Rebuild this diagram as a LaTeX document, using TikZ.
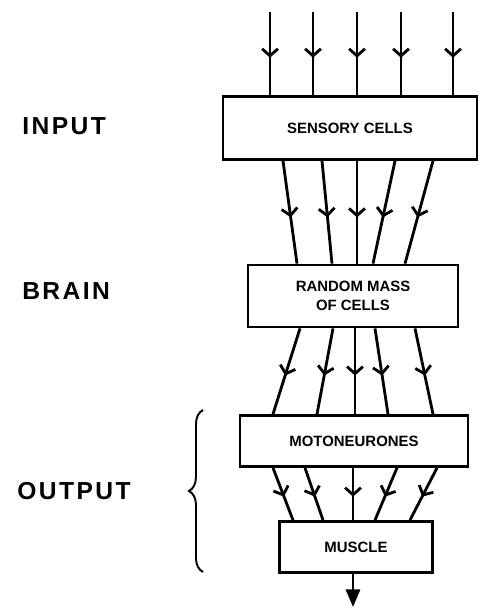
\documentclass[tikz,border=0pt]{standalone}
\usepackage{fontspec}
\setmainfont{Liberation Sans}
\usetikzlibrary{arrows.meta,decorations.markings,decorations.pathreplacing}
\begin{document}
\begin{tikzpicture}[x=0.02cm,y=-0.02cm,line width=1.6pt,
    box/.style={draw,rectangle,inner sep=0pt,align=center,
      font=\fontsize{8.5}{11}\selectfont\bfseries},
    nerve/.style={postaction={decorate},decoration={markings,
      mark=at position .55 with {\arrow{Straight Barb[length=4pt,width=9pt]}}}},
    side/.style={anchor=west,font=\fontsize{14}{16}\selectfont\bfseries\addfontfeature{LetterSpace=10}}]
  \useasboundingbox (0,0) rectangle (480,609);
  % the four stages
  \node[box,minimum width=5.08cm,minimum height=1.26cm] (sens) at (350,128) {SENSORY CELLS};
  \node[box,minimum width=4.2cm,minimum height=1.24cm] (rand) at (353,296) {RANDOM MASS\\OF CELLS};
  \node[box,minimum width=4.56cm,minimum height=1.02cm] (moto) at (354,441) {MOTONEURONES};
  \node[box,minimum width=3.06cm,minimum height=1.02cm] (musc) at (356,547) {MUSCLE};
  % labels on the left
  \node[side] (inp) at (15,126) {INPUT};
  \node[side] (brn) at (15,291) {BRAIN};
  \node[side] (outp) at (10,491) {OUTPUT};
  \draw[line width=1.1pt,decorate,decoration={brace,amplitude=8pt}] (203,572) -- (203,410);
  % fibres
  \foreach \x in {270,313,357,401,453}
    \draw[nerve] (\x,12) -- (\x,0 |- sens.north);
  \foreach \a/\b in {283/297,322/332,357/357,395/373,433/405}
    \draw[nerve] (\a,0 |- sens.south) -- (\b,0 |- rand.north);
  \foreach \a/\b in {300/273,333/317,355/355,375/388,415/433}
    \draw[nerve] (\a,0 |- rand.south) -- (\b,0 |- moto.north);
  \foreach \a/\b in {273/293,305/323,353/353,397/375,437/410}
    \draw[nerve] (\a,0 |- moto.south) -- (\b,0 |- musc.north);
  \draw[-{Triangle[length=10pt,width=8pt]}] (353,0 |- musc.south) -- (353,607);
\end{tikzpicture}
\end{document}
